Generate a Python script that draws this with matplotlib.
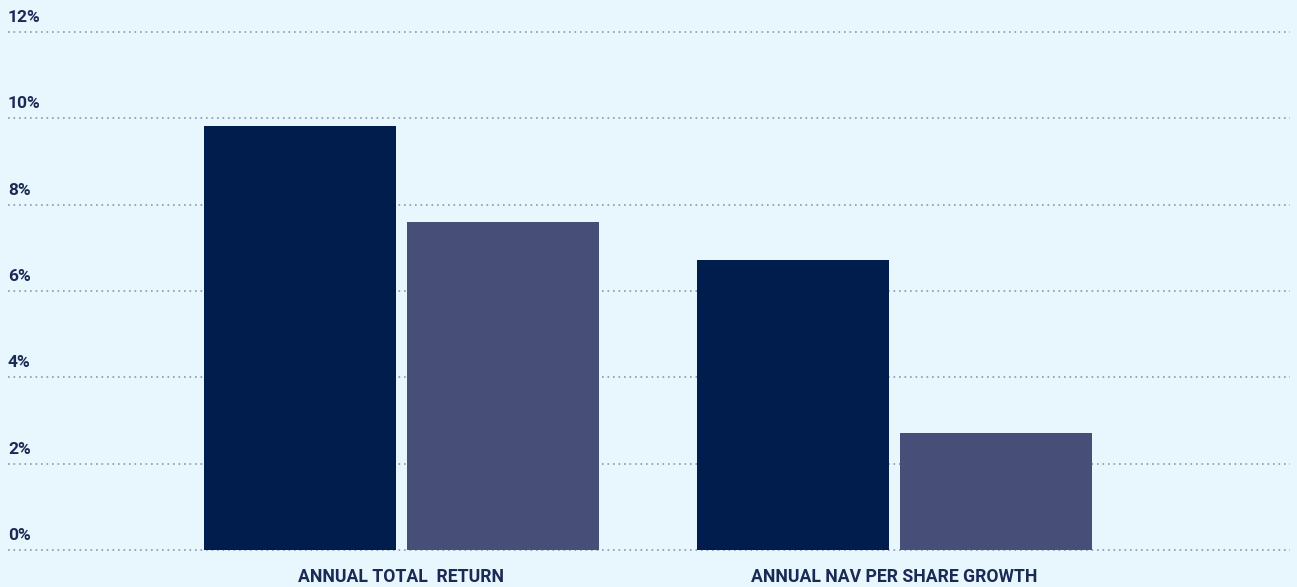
import numpy as np
import matplotlib.pyplot as plt
from matplotlib import transforms

# data
categories = ["ANNUAL TOTAL  RETURN", "ANNUAL NAV PER SHARE GROWTH"]
series_a = [9.82, 6.72]
series_b = [7.6, 2.71]
yticks = [0, 2, 4, 6, 8, 10, 12]
ytick_labels = ["0%", "2%", "4%", "6%", "8%", "10%", "12%"]

bg = "#e8f6fd"
col_a = "#001d4d"
col_b = "#474f78"
txt = "#1b2a55"
grid_col = "#8a96b0"

plt.rcParams['font.family'] = ['Roboto', 'DejaVu Sans']

fig = plt.figure(figsize=(12.97, 5.87), dpi=100, facecolor=bg)
ax = fig.add_axes([8 / 1297, 1 - 550 / 587, 1282 / 1297, (550 - 32) / 587])
ax.set_facecolor(bg)

x = np.arange(len(categories))
w = 0.389
off = 0.206
ax.bar(x - off, series_a, width=w, color=col_a, zorder=3)
ax.bar(x + off, series_b, width=w, color=col_b, zorder=3)

ax.set_xlim(-0.798, 1.802)
ax.set_ylim(0, 12)
ax.hlines(yticks, -0.798, 1.802, colors=grid_col, linewidth=1.2,
          linestyles=(0, (1, 2.3)), zorder=1, clip_on=False)

# y labels sit just above their gridline
trans = transforms.blended_transform_factory(ax.transAxes, ax.transData)
trans = trans + transforms.ScaledTranslation(0, 5 / 72, fig.dpi_scale_trans)
for v, lab in zip(yticks, ytick_labels):
    ax.text(0, v, lab, transform=trans, ha='left', va='bottom',
            fontsize=12.5, color=txt, fontweight='bold')

ax.set_xticks(x)
ax.set_xticklabels(categories, fontsize=12.7, color=txt, fontweight='bold')
ax.tick_params(axis='x', length=0, pad=13)
ax.set_yticks([])
for s in ax.spines.values():
    s.set_visible(False)

fig.savefig("out.png", dpi=100, facecolor=bg)
